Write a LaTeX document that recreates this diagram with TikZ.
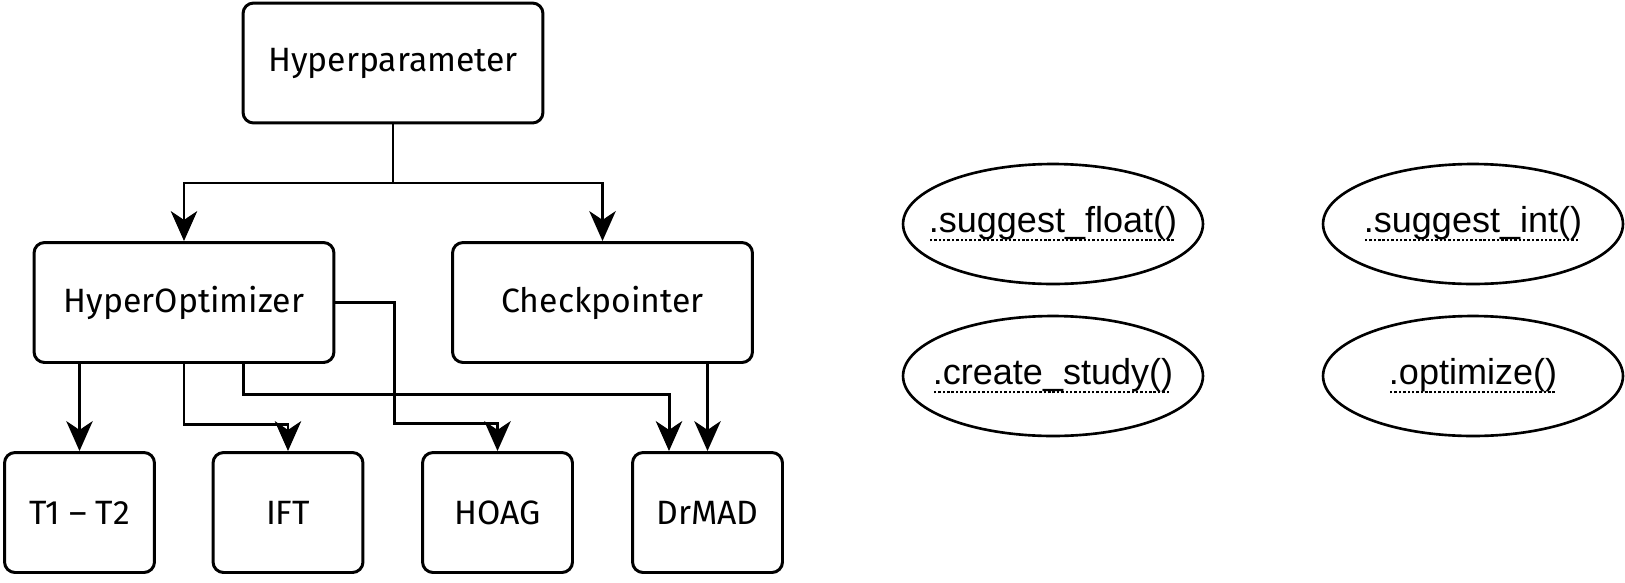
\documentclass[tikz,border=0pt]{standalone}
\usepackage{fontspec}
\setmainfont{Fira Sans}
\newfontfamily\methodfont{Liberation Sans}
\usetikzlibrary{arrows.meta,shapes.geometric}

% dotted underline, like the method links
\newcommand{\dotul}[1]{\setbox0\hbox{#1}\leavevmode\rlap{\raisebox{-5pt}{\hbox to \wd0{\leaders\hbox to 2.5pt{\hss\rule{1.4pt}{1.4pt}\hss}\hfill}}}\box0}

\begin{document}
\begin{tikzpicture}[x=0.02cm, y=-0.02cm,
	box/.style={draw, line width=1.7pt, rounded corners=6pt, minimum width=6cm, minimum height=2.4cm, font=\fontsize{19.2}{23}\selectfont},
	leaf/.style={box, minimum width=3cm},
	method/.style={draw, ellipse, line width=1.5pt, minimum width=6cm, minimum height=2.4cm, inner xsep=-0.45cm, inner ysep=0pt, font=\methodfont\fontsize{20.5}{24}\selectfont},
	arr/.style={line width=1.7pt, -{Stealth[length=17pt,width=15pt,inset=5pt]}}]

	\useasboundingbox (0,0) rectangle (1625,582);

	\node[box] (hyper) at (393,63) {Hyperparameter};
	\node[box] (hopt) at (184,302.5) {HyperOptimizer};
	\node[box] (ckpt) at (602.5,302.5) {Checkpointer};

	\node[leaf] (t12) at (79.5,512.5) {T1 -- T2};
	\node[leaf] (ift) at (288,512.5) {IFT};
	\node[leaf] (hoag) at (497.5,512.5) {HOAG};
	\node[leaf] (drmad) at (707.5,512.5) {DrMAD};

	% the optuna side
	\node[method] (sfloat) at (1053,224) {\dotul{.suggest\_float()}};
	\node[method] (sint) at (1473,224) {\dotul{.suggest\_int()}};
	\node[method] (cstudy) at (1053,376) {\dotul{.create\_study()}};
	\node[method] (optim) at (1473,376) {\dotul{.optimize()}};

	\coordinate (split) at (393,183);
	\draw[line width=1.7pt] (hyper.south) -- (split);
	\draw[arr] (split) -| (hopt.north);
	\draw[arr] (split) -| (ckpt.north);

	\draw[arr] (t12.north |- hopt.south) -- (t12.north);
	\draw[arr] (hopt.south) -- ++(0,60.5) -| (ift.north);
	\draw[arr] (hopt.east) -- ++(59,0) -- ++(0,120.5) -| (hoag.north);
	\draw[arr] ([xshift=1.2cm]hopt.south) -- ++(0,30.5) -| ([xshift=-0.77cm]drmad.north);
	\draw[arr] (drmad.north |- ckpt.south) -- (drmad.north);

\end{tikzpicture}
\end{document}
